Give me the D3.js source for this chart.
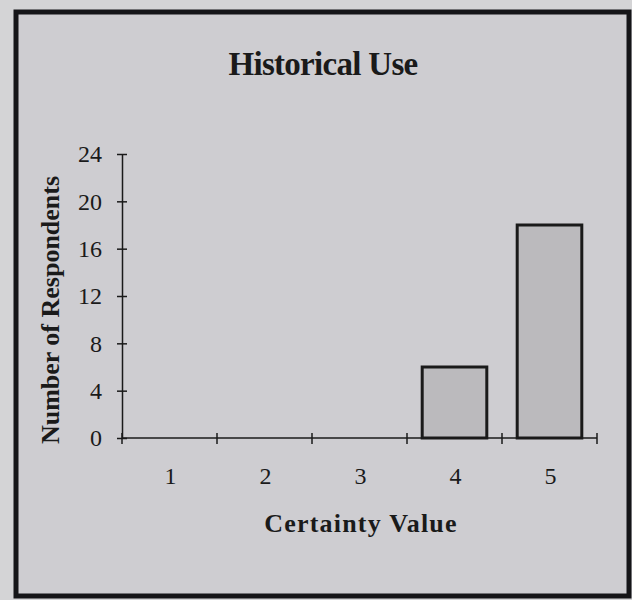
<!DOCTYPE html>
<html>
<head>
<meta charset="utf-8">
<script src="https://cdn.jsdelivr.net/npm/d3@7"></script>
<style>
	body { margin: 0; background: #d4d4d6; }
	svg { display: block; }
</style>
</head>
<body>
<svg id="chart"></svg>
<script>
// chart data
const categories = [1, 2, 3, 4, 5];
const respondents = [0, 0, 0, 6, 18];
const yTicks = [0, 4, 8, 12, 16, 20, 24];

const width = 632;
const height = 600;
const margin = { top: 154, right: 35, bottom: 162, left: 122 };

const svg = d3.select('#chart')
	.attr('width', width)
	.attr('height', height);

// paper background + frame
svg.append('rect')
	.attr('width', width)
	.attr('height', height)
	.attr('fill', '#d4d4d6');

svg.append('rect')
	.attr('x', 16)
	.attr('y', 12)
	.attr('width', 613)
	.attr('height', 584)
	.attr('fill', '#cecdd1')
	.attr('stroke', '#151518')
	.attr('stroke-width', 5);

const xScale = d3.scaleBand()
	.domain(categories)
	.range([margin.left, width - margin.right])
	.paddingInner(0.32)
	.paddingOuter(0.16);

const yScale = d3.scaleLinear()
	.domain([0, 24])
	.range([height - margin.bottom, margin.top]);

const serif = '"Liberation Serif", "Times New Roman", serif';
const ink = '#1a1a1a';

// bars
const data = categories.map((c, i) => ({ cat: c, value: respondents[i] }));

svg.selectAll('.bar')
	.data(data.filter(d => d.value > 0))
	.join('rect')
	.attr('class', 'bar')
	.attr('x', d => xScale(d.cat))
	.attr('y', d => yScale(d.value))
	.attr('width', xScale.bandwidth())
	.attr('height', d => yScale(0) - yScale(d.value))
	.attr('fill', '#bbbabd')
	.attr('stroke', ink)
	.attr('stroke-width', 3);

// y axis
const yAxis = d3.axisLeft(yScale)
	.tickValues(yTicks)
	.tickSizeInner(5)
	.tickSizeOuter(0)
	.tickPadding(15);

const yAxisG = svg.append('g')
	.attr('transform', `translate(${margin.left},0)`)
	.call(yAxis);

yAxisG.select('.domain').attr('stroke', ink).attr('stroke-width', 1.5);
yAxisG.selectAll('.tick line')
	.attr('x1', -5)
	.attr('x2', 5)
	.attr('stroke', ink)
	.attr('stroke-width', 1.5);
yAxisG.selectAll('text')
	.attr('font-family', serif)
	.attr('font-size', 24)
	.attr('fill', ink);

// x axis: line with ticks at category boundaries
const step = xScale.step();
const half = step * xScale.paddingInner() / 2;
const bounds = categories.map(c => xScale(c) - half)
	.concat([xScale(categories[categories.length - 1]) + xScale.bandwidth() + half]);

svg.append('line')
	.attr('x1', margin.left)
	.attr('x2', bounds[bounds.length - 1])
	.attr('y1', yScale(0))
	.attr('y2', yScale(0))
	.attr('stroke', ink)
	.attr('stroke-width', 1.5);

svg.selectAll('.x-tick')
	.data(bounds)
	.join('line')
	.attr('class', 'x-tick')
	.attr('x1', d => d)
	.attr('x2', d => d)
	.attr('y1', yScale(0) - 5)
	.attr('y2', yScale(0) + 6)
	.attr('stroke', ink)
	.attr('stroke-width', 1.5);

svg.selectAll('.x-label')
	.data(categories)
	.join('text')
	.attr('class', 'x-label')
	.attr('x', d => xScale(d) + xScale.bandwidth() / 2 + 1)
	.attr('y', yScale(0) + 46)
	.attr('text-anchor', 'middle')
	.attr('font-family', serif)
	.attr('font-size', 24)
	.attr('fill', ink)
	.text(d => d);

// titles
svg.append('text')
	.attr('x', 323)
	.attr('y', 75)
	.attr('text-anchor', 'middle')
	.attr('font-family', serif)
	.attr('font-weight', 'bold')
	.attr('font-size', 33)
	.attr('letter-spacing', -0.7)
	.attr('fill', ink)
	.text('Historical Use');

svg.append('text')
	.attr('x', 361)
	.attr('y', 532)
	.attr('text-anchor', 'middle')
	.attr('font-family', serif)
	.attr('font-weight', 'bold')
	.attr('font-size', 26)
	.attr('letter-spacing', 1.2)
	.attr('fill', ink)
	.text('Certainty Value');

svg.append('text')
	.attr('transform', `translate(59,${310}) rotate(-90)`)
	.attr('text-anchor', 'middle')
	.attr('font-family', serif)
	.attr('font-weight', 'bold')
	.attr('font-size', 26)
	.attr('fill', ink)
	.text('Number of Respondents');
</script>
</body>
</html>
